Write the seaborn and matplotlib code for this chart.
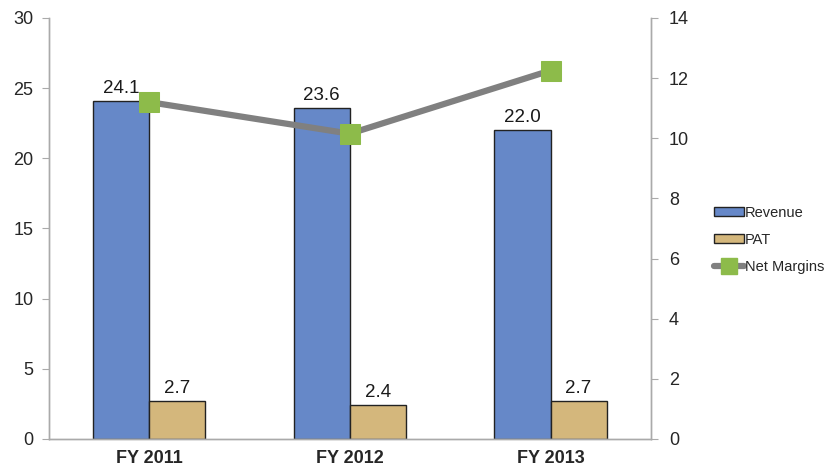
import matplotlib
matplotlib.use('Agg')
import matplotlib.pyplot as plt
import pandas as pd
import seaborn as sns
from matplotlib.patches import Patch
from matplotlib.lines import Line2D

years = ['FY 2011', 'FY 2012', 'FY 2013']
revenue = [24.1, 23.6, 22.0]
pat = [2.7, 2.4, 2.7]
net_margins = [11.2, 10.15, 12.25]

sns.set_style('white')
plt.rcParams['font.family'] = ['Liberation Sans', 'DejaVu Sans']

df = pd.DataFrame({
    'year': years * 2,
    'value': revenue + pat,
    'series': ['Revenue'] * 3 + ['PAT'] * 3,
})

fig = plt.figure(figsize=(8.27, 4.70), dpi=100)
ax = fig.add_axes([0.059, 0.066, 0.728, 0.896])

rev_color = '#6688c8'
pat_color = '#d4b77c'
sns.barplot(data=df, x='year', y='value', hue='series', ax=ax, width=0.56,
            palette=[rev_color, pat_color], saturation=1,
            edgecolor='#222222', linewidth=1, legend=False)

for cont in ax.containers:
    ax.bar_label(cont, fmt='%.1f', padding=3, fontsize=13.5, color='#1a1a1a')

ax.set_ylim(0, 30)
ax.set_yticks(range(0, 31, 5))
ax.set_xlim(-0.5, 2.5)
ax.set_xlabel('')
ax.set_ylabel('')
ax.tick_params(axis='y', labelsize=13, length=5, color='#aaaaaa', direction='out', pad=6)
ax.tick_params(axis='x', labelsize=13, length=0, pad=8)
for lab in ax.get_xticklabels():
    lab.set_fontweight('bold')
ax.set_xticks([-0.5, 0.5, 1.5, 2.5], minor=True)
ax.tick_params(axis='x', which='minor', length=5, color='#aaaaaa', direction='out')

ax2 = ax.twinx()
sns.lineplot(x=[0, 1, 2], y=net_margins, ax=ax2, color='#808080', linewidth=4.5,
             marker='s', markersize=14, markerfacecolor='#8dbb4a',
             markeredgecolor='#8dbb4a')
ax2.set_ylim(0, 14)
ax2.set_yticks(range(0, 15, 2))
ax2.tick_params(axis='y', labelsize=13, length=5, color='#aaaaaa', direction='out', pad=8)
ax2.set_xlim(-0.5, 2.5)

for a in (ax, ax2):
    a.spines['top'].set_visible(False)
    for s in ('left', 'right', 'bottom'):
        a.spines[s].set_color('#aaaaaa')
        a.spines[s].set_linewidth(1)

handles = [
    Patch(facecolor=rev_color, edgecolor='#222222', label='Revenue'),
    Patch(facecolor=pat_color, edgecolor='#222222', label='PAT'),
    Line2D([0], [0], color='#808080', linewidth=4.5, marker='s', markersize=11,
           markerfacecolor='#8dbb4a', markeredgecolor='#8dbb4a', label='Net Margins'),
]
fig.legend(handles=handles, loc='center left', bbox_to_anchor=(0.848, 0.49),
           frameon=False, fontsize=10.5, handlelength=2, handletextpad=0.1,
           labelspacing=0.9, handleheight=0.6)

fig.savefig('out.png', dpi=100)
